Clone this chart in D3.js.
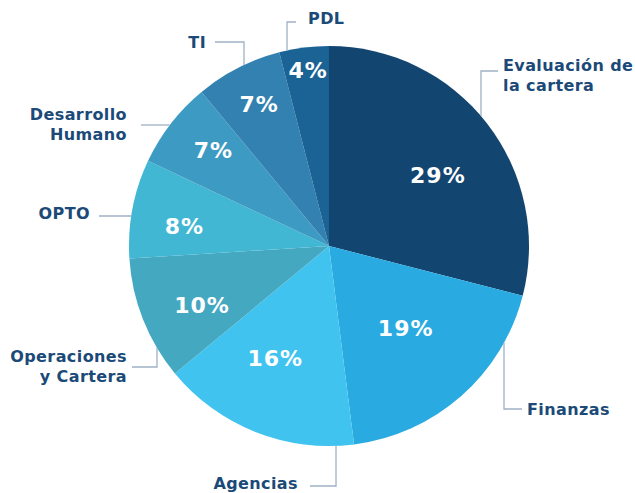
<!DOCTYPE html>
<html>
<head>
<meta charset="utf-8">
<script src="https://cdn.jsdelivr.net/npm/d3@7"></script>
<style>
  body { margin:0; background:#fff; }
  svg { display:block; }
  .lbl { font-family:'DejaVu Sans', Verdana, sans-serif; font-weight:bold; font-size:16px; letter-spacing:0.4px; fill:#1b4a78; }
  .pct { font-family:'DejaVu Sans', Verdana, sans-serif; font-weight:bold; font-size:22px; letter-spacing:1px; fill:#fff; }
</style>
</head>
<body>
<svg id="chart" width="635" height="493"></svg>
<script>
// data
var names = ['Evaluación de la cartera','Finanzas','Agencias','Operaciones y Cartera','OPTO','Desarrollo Humano','TI','PDL'];
var values = [29,19,16,10,8,7,7,4];
var colors = ['#134571','#29abe2','#41c3f0','#45a8c1','#42b7d4','#3d9ac3','#3381b0','#1c6395'];

// label layout (text lines, anchor, leader elbow)
var labelLines = [['Evaluación de','la cartera'],['Finanzas'],['Agencias'],['Operaciones','y Cartera'],['OPTO'],['Desarrollo','Humano'],['TI'],['PDL']];
var labelPos = [
  {x:503, y:65, anchor:'start', lead:'v', lx:481, ly:71, ex:498},
  {x:527, y:409, anchor:'start', lead:'v', lx:504, ly:409, ex:522},
  {x:298, y:483, anchor:'end', lead:'v', lx:336, ly:486, ex:310},
  {x:127, y:356, anchor:'end', lead:'v', lx:157, ly:367, ex:132},
  {x:90, y:213, anchor:'end', lead:'h', ly:216, ex:99},
  {x:127, y:114, anchor:'end', lead:'h', ly:125, ex:141},
  {x:206, y:42, anchor:'end', lead:'v', lx:244, ly:42, ex:215},
  {x:308, y:18, anchor:'start', lead:'v', lx:287, ly:22, ex:296}
];
// percent label radius / angle shift (degrees), per slice
var pctR = [130,112,124,140,146,150,158,177];
var pctShift = [4.7,-1.8,4.1,-3.3,-2.9,1.8,0.8,0.4];

var cx = 329, cy = 246, r = 200;
var svg = d3.select('#chart');
var g = svg.append('g').attr('transform','translate('+cx+','+cy+')');

var pie = d3.pie().sort(null).value(d => d);
var arcs = pie(values);
var arc = d3.arc().innerRadius(0).outerRadius(r);

g.selectAll('.slice')
  .data(arcs)
  .join('path')
  .attr('class','slice')
  .attr('d',arc)
  .attr('fill',(d,i) => colors[i]);

function pctAngle(d,i){
  return (d.startAngle+d.endAngle)/2 + pctShift[i]*Math.PI/180;
}
g.selectAll('.pct')
  .data(arcs)
  .join('text')
  .attr('class','pct')
  .attr('text-anchor','middle')
  .attr('dy','0.36em')
  .attr('x',(d,i) => pctR[i]*Math.sin(pctAngle(d,i)))
  .attr('y',(d,i) => -pctR[i]*Math.cos(pctAngle(d,i)))
  .text(d => d.value+'%');

// leader lines: from the circle edge to the elbow then to the label
function leaderPts(p){
  if(p.lead == 'v'){
    var dx = p.lx - cx;
    var dy = Math.sqrt(r*r - dx*dx);
    var ay = p.ly < cy ? cy - dy : cy + dy;
    return [[p.lx, ay],[p.lx, p.ly],[p.ex, p.ly]];
  } else {
    var dy2 = p.ly - cy;
    var dx2 = Math.sqrt(r*r - dy2*dy2);
    return [[cx - dx2, p.ly],[p.ex, p.ly]];
  }
}
svg.selectAll('.leader')
  .data(labelPos)
  .join('path')
  .attr('class','leader')
  .attr('d',d => d3.line()(leaderPts(d)))
  .attr('fill','none')
  .attr('stroke','#9fb1c6')
  .attr('stroke-width',1.3);

var lbl = svg.selectAll('.lbl')
  .data(labelPos)
  .join('text')
  .attr('class','lbl')
  .attr('text-anchor',d => d.anchor)
  .attr('x',d => d.x)
  .attr('y',d => d.y);
lbl.each(function(d,i){
  var t = d3.select(this);
  labelLines[i].forEach((s,j) => {
    t.append('tspan').attr('x',d.x).attr('y',d.y + j*20.5).attr('dy','0.35em').text(s);
  });
});
</script>
</body>
</html>
